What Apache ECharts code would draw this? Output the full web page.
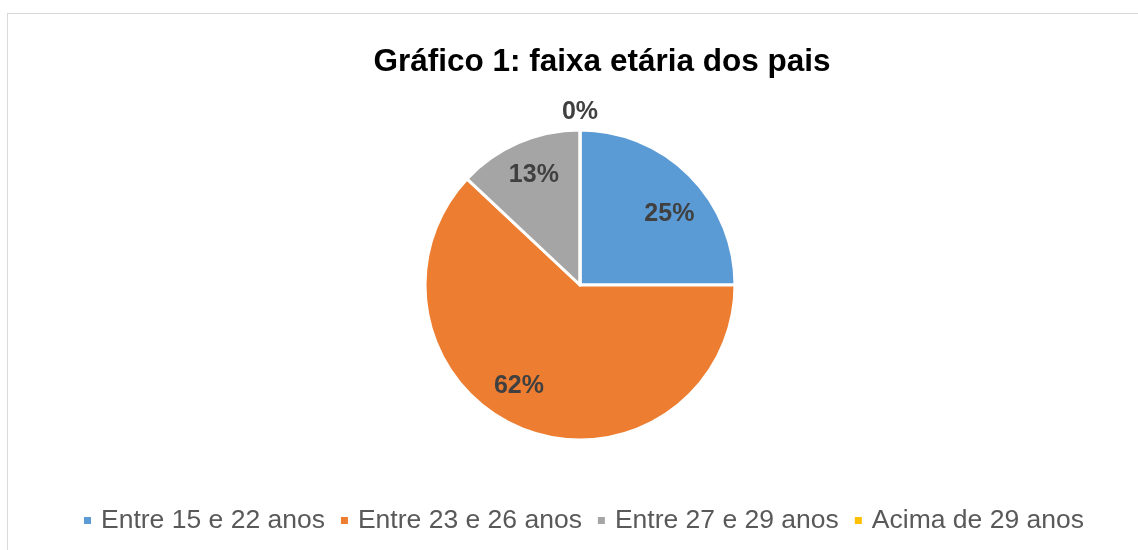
<!DOCTYPE html>
<html>
<head>
<meta charset="utf-8">
<script src="https://cdn.jsdelivr.net/npm/echarts@6/dist/echarts.min.js"></script>
<style>
html,body{margin:0;padding:0;background:#fff;}
#frame{position:absolute;left:7px;top:13px;width:1140px;height:560px;border:1px solid #d9d9d9;box-sizing:border-box;}
#chart{position:absolute;left:0;top:0;width:1138px;height:550px;}
</style>
</head>
<body>
<div id="frame"></div>
<div id="chart"></div>
<script>
const titleText = 'Gráfico 1: faixa etária dos pais';
const categories = ['Entre 15 e 22 anos', 'Entre 23 e 26 anos', 'Entre 27 e 29 anos', 'Acima de 29 anos'];
const values = [25, 62, 13, 0];
const colors = ['#5B9BD5', '#ED7D31', '#A5A5A5', '#FFC000'];

const chart = echarts.init(document.getElementById('chart'));
const center = [580, 285];
const FONT = 'Liberation Sans, Arial, sans-serif';
const labelStyle = {fontFamily: FONT, fontSize: 25, fontWeight: 'bold', color: '#404040'};

// label placement (angle shift clockwise in degrees, label distance from centre in px)
const labelPlacement = [
  {shift: 6.6, dist: 111},
  {shift: 9.4, dist: 115.5},
  {shift: 0.6, dist: 116},
  {shift: 0, dist: 170}
];

function labelSeries(idx) {
  const p = labelPlacement[idx];
  return {
    type: 'pie', radius: 2 * p.dist, center: center, startAngle: 90 - p.shift, clockwise: true,
    silent: true, legendHoverLink: false, z: 5,
    itemStyle: {color: 'rgba(0,0,0,0)', borderWidth: 0},
    label: Object.assign({position: 'inside', formatter: '{d}%'}, labelStyle),
    labelLine: {show: false}, emphasis: {disabled: true},
    data: categories.map((c, i) => ({
      name: c, value: values[i],
      itemStyle: {color: 'rgba(0,0,0,0)'},
      label: {show: i === idx}
    }))
  };
}

chart.setOption({
  animation: false,
  title: {
    text: titleText, left: 602, top: 46, textAlign: 'center', padding: 0,
    textStyle: {fontFamily: FONT, fontSize: 31.5, fontWeight: 'bold', color: '#000'}
  },
  legend: {
    data: categories, top: 507, left: 82, padding: 0,
    icon: 'rect', itemWidth: 9, itemHeight: 9, itemGap: 14,
    textStyle: {fontFamily: FONT, fontSize: 26.5, color: '#595959', padding: [0, 0, 0, 4]}
  },
  series: [
    {
      type: 'pie', radius: 155, center: center, startAngle: 90, clockwise: true,
      label: {show: false}, labelLine: {show: false},
      itemStyle: {borderColor: '#fff', borderWidth: 3},
      emphasis: {disabled: true},
      data: categories.map((c, i) => ({name: c, value: values[i], itemStyle: {color: colors[i]}}))
    },
    labelSeries(0), labelSeries(1), labelSeries(2), labelSeries(3)
  ]
});
</script>
</body>
</html>
